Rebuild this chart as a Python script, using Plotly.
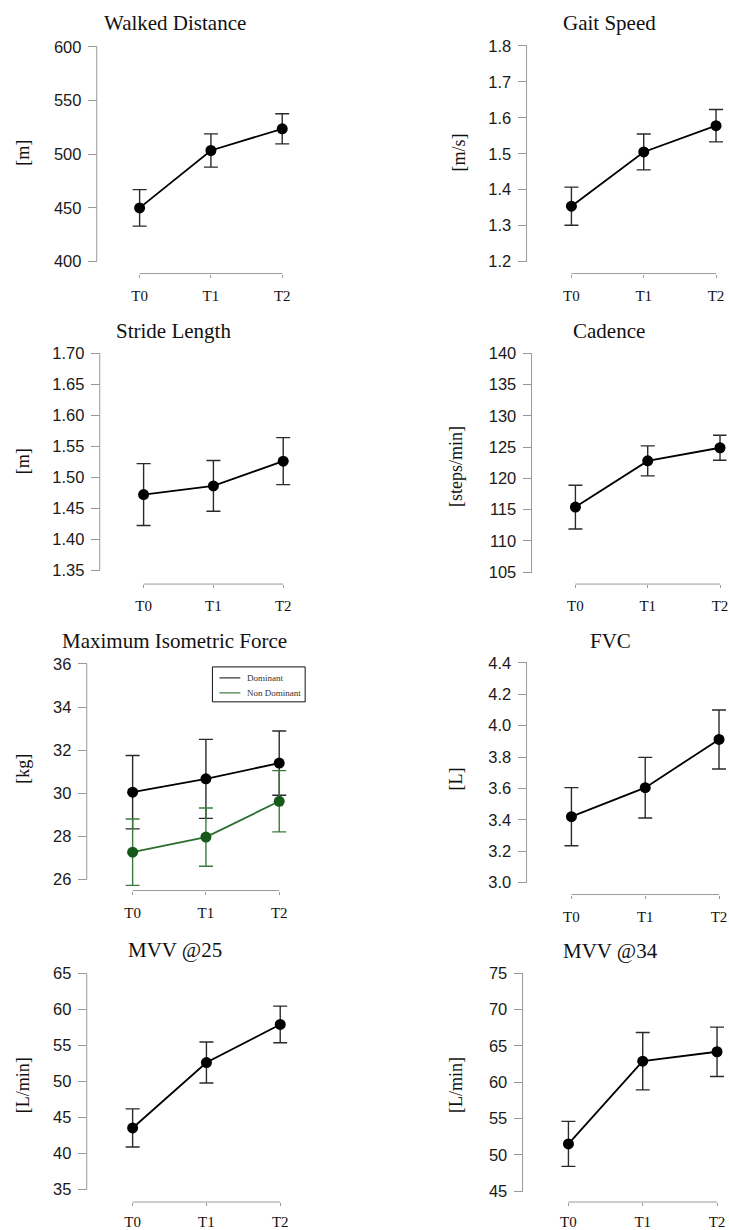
import plotly.graph_objects as go

W, H = 729, 1230

time_points = ["T0", "T1", "T2"]
titles = ["Walked Distance", "Gait Speed", "Stride Length", "Cadence",
          "Maximum Isometric Force", "FVC", "MVV @25", "MVV @34"]
units = ["[m]", "[m/s]", "[m]", "[steps/min]", "[kg]", "[L]", "[L/min]", "[L/min]"]

walked_mean = [450.0, 503.5, 523.7]
walked_err = [17.0, 15.5, 14.0]
gait_mean = [1.354, 1.505, 1.578]
gait_err = [0.053, 0.050, 0.045]
stride_mean = [1.472, 1.486, 1.526]
stride_err = [0.050, 0.041, 0.038]
cadence_mean = [115.4, 122.8, 124.9]
cadence_err = [3.5, 2.4, 2.0]
force_dom_mean = [30.05, 30.67, 31.40]
force_dom_err = [1.70, 1.83, 1.49]
force_nondom_mean = [27.27, 27.97, 29.63]
force_nondom_err = [1.54, 1.35, 1.42]
fvc_mean = [3.42, 3.605, 3.912]
fvc_err = [0.185, 0.193, 0.188]
mvv25_mean = [43.5, 52.6, 57.9]
mvv25_err = [2.65, 2.85, 2.55]
mvv34_mean = [51.5, 62.9, 64.2]
mvv34_err = [3.1, 3.95, 3.4]

legend_labels = ["Dominant", "Non Dominant"]

y_ranges = [(400, 600), (1.2, 1.8), (1.35, 1.70), (105, 140),
            (26, 36), (3.0, 4.4), (35, 65), (45, 75)]
y_dticks = [50, 0.1, 0.05, 5, 2, 0.2, 5, 5]
y_formats = ["d", ".1f", ".2f", "d", "d", ".1f", "d", "d"]

# panel geometry in pixels: y-axis x, y top, y bottom, x-axis y, T0 x, T2 x, title (x,y), ytitle (x,y)
geom = [
    (97, 47, 262, 274, 140, 283, (175, 23), (23, 153)),
    (528, 46, 262, 274, 573, 718, (611, 23), (460, 153)),
    (100, 354, 571, 585, 144, 284, (174, 332), (23, 462)),
    (533, 354, 573, 585, 577, 722, (611, 332), (457, 467)),
    (87, 665, 881, 892, 133, 280, (175, 642), (23, 770)),
    (528, 664, 884, 896, 573, 721, (612, 642), (457, 780)),
    (87, 975, 1191, 1204, 133, 281, (175, 952), (23, 1087)),
    (524, 975, 1193, 1204, 570, 719, (612, 953), (457, 1087)),
]

GREEN = "#17591a"
series = [
    [(walked_mean, walked_err, "black")],
    [(gait_mean, gait_err, "black")],
    [(stride_mean, stride_err, "black")],
    [(cadence_mean, cadence_err, "black")],
    [(force_dom_mean, force_dom_err, "black"),
     (force_nondom_mean, force_nondom_err, GREEN)],
    [(fvc_mean, fvc_err, "black")],
    [(mvv25_mean, mvv25_err, "black")],
    [(mvv34_mean, mvv34_err, "black")],
]


def fx(px):
    return px / W


def fy(py):
    return 1 - py / H


fig = go.Figure()
annotations = []
shapes = []
layout = dict(width=W, height=H, autosize=False,
              margin=dict(l=0, r=0, t=0, b=0, pad=0),
              paper_bgcolor="white", plot_bgcolor="white",
              showlegend=False)

axis_color = "#9a9a9a"
sans = "Liberation Sans, Arial, sans-serif"
serif = "Liberation Serif, Times New Roman, serif"

for i, g in enumerate(geom):
    yax_x, ytop, ybot, xax_y, t0, t2, tpos, ytpos = g
    n = i + 1
    xa = "xaxis" if n == 1 else f"xaxis{n}"
    ya = "yaxis" if n == 1 else f"yaxis{n}"
    xr = "x" if n == 1 else f"x{n}"
    yr = "y" if n == 1 else f"y{n}"

    # x axis: padded range so error-bar caps are not clipped
    ppu_x = (t2 - t0) / 2.0
    padl = 0.25
    padr = min(0.25, (W - 0.5 - t2) / ppu_x)
    layout[xa] = dict(domain=[fx(t0 - padl * ppu_x), fx(t2 + padr * ppu_x)],
                      range=[-padl, 2 + padr], anchor="free",
                      position=fy(xax_y), showline=False,
                      ticks="outside", ticklen=3, tickcolor=axis_color, tickwidth=1,
                      tickmode="array", tickvals=[0, 1, 2], ticktext=time_points,
                      tickfont=dict(family=serif, size=15, color="#111"),
                      ticklabelstandoff=5 if n < 7 else 3,
                      ticklabeloverflow="allow",
                      showgrid=False, zeroline=False, fixedrange=True)
    lo, hi = y_ranges[i]
    span = hi - lo
    ppu_y = (ybot - ytop) / span
    pad_lo = 0.12 * span
    pad_hi = 0.05 * span
    d = y_dticks[i]
    k = int(round(span / d))
    vals = [lo + j * d for j in range(k + 1)]
    if y_formats[i] == "d":
        texts = [str(int(round(v))) for v in vals]
    else:
        texts = [format(v, y_formats[i]) for v in vals]
    layout[ya] = dict(domain=[fy(ybot + pad_lo * ppu_y), fy(ytop - pad_hi * ppu_y)],
                      range=[lo - pad_lo, hi + pad_hi], anchor="free",
                      position=fx(yax_x), showline=False,
                      ticks="outside", ticklen=9, tickcolor=axis_color, tickwidth=1,
                      tickmode="array", tickvals=vals, ticktext=texts,
                      tickfont=dict(family=sans, size=16.5, color="#1a1a1a"),
                      ticklabelstandoff=3,
                      showgrid=False, zeroline=False, fixedrange=True)
    # R-style axis lines spanning only first..last tick
    shapes.append(dict(type="line", xref=xr, yref="paper", x0=0, x1=2,
                       y0=fy(xax_y), y1=fy(xax_y),
                       line=dict(color=axis_color, width=1)))
    shapes.append(dict(type="line", xref="paper", yref=yr, x0=fx(yax_x), x1=fx(yax_x),
                       y0=lo, y1=hi, line=dict(color=axis_color, width=1)))

    for (mean, err, color) in series[i]:
        errcol = "#2a2a2a" if color == "black" else "#3b7a3d"
        linecol = "black" if color == "black" else "#2c6e2e"
        fig.add_trace(go.Scatter(
            x=[0, 1, 2], y=mean, xaxis=xr, yaxis=yr, mode="lines+markers",
            line=dict(color=linecol, width=1.8),
            marker=dict(color=color, size=11),
            error_y=dict(type="data", array=err, visible=True, color=errcol,
                         thickness=1.4, width=7),
            cliponaxis=False, showlegend=False, hoverinfo="x+y"))
    annotations.append(dict(
        text=titles[i], x=fx(tpos[0]), y=fy(tpos[1]), xref="paper", yref="paper",
        xanchor="center", yanchor="middle", showarrow=False,
        font=dict(family=serif, size=21, color="#111")))
    annotations.append(dict(
        text=units[i], x=fx(ytpos[0]), y=fy(ytpos[1]), xref="paper", yref="paper",
        xanchor="center", yanchor="middle", showarrow=False, textangle=-90,
        font=dict(family=serif, size=18, color="#111")))

# legend box for the force panel (drawn manually, R style)
shapes.append(dict(type="rect", xref="paper", yref="paper",
                   x0=fx(213), x1=fx(306), y0=fy(703), y1=fy(668),
                   line=dict(color="#111", width=1), fillcolor="white"))
leg_colors = ["#333333", "#3b7a3d"]
leg_y = [679, 694]
for lbl, col, ly in zip(legend_labels, leg_colors, leg_y):
    shapes.append(dict(type="line", xref="paper", yref="paper",
                       x0=fx(220), x1=fx(241), y0=fy(ly), y1=fy(ly),
                       line=dict(color=col, width=1.2)))
    annotations.append(dict(text=lbl, x=fx(246), y=fy(ly), xref="paper", yref="paper",
                            xanchor="left", yanchor="middle", showarrow=False,
                            font=dict(family=serif, size=9, color="#333")))

layout["annotations"] = annotations
layout["shapes"] = shapes
fig.update_layout(**layout)
fig.write_html("out.html",
               config={"displayModeBar": False},
               post_script="document.body.style.margin='0';document.body.style.padding='0';document.documentElement.style.overflow='hidden';")
